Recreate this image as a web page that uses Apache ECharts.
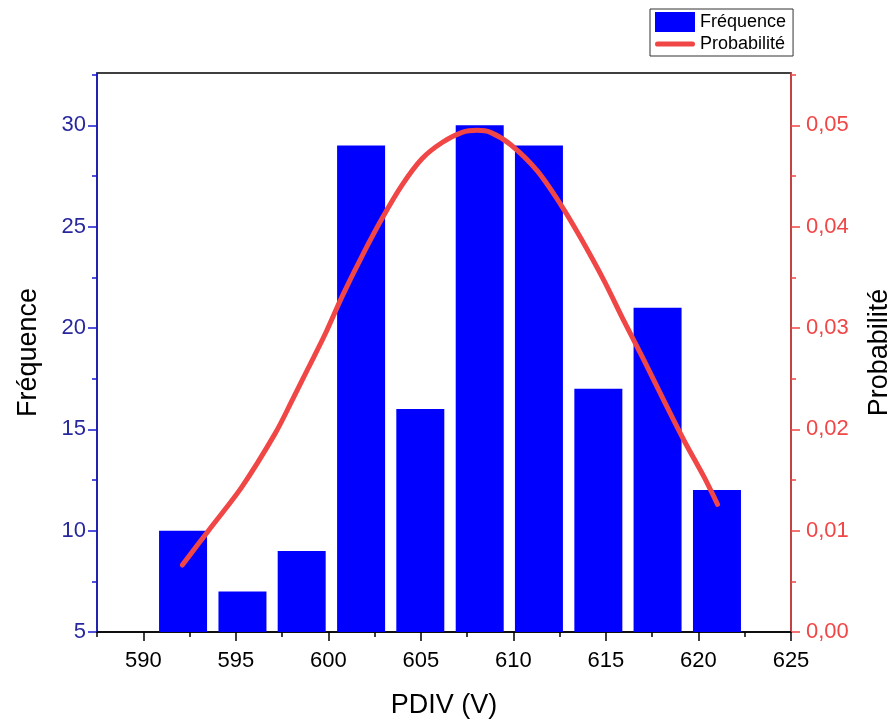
<!DOCTYPE html>
<html>
<head>
<meta charset="utf-8">
<script src="https://cdn.jsdelivr.net/npm/echarts@6/dist/echarts.min.js"></script>
<style>
html,body{margin:0;padding:0;background:#fff;}
#chart{width:889px;height:722px;}
</style>
</head>
<body>
<div id="chart"></div>
<script>
// ---- data ----
const binCenters = [592.15, 595.36, 598.56, 601.77, 604.97, 608.18, 611.38, 614.59, 617.79, 621.0];
const frequencies = [10, 7, 9, 29, 16, 30, 29, 17, 21, 12];
const curveX = [592.11, 593.52, 595.32, 597.13, 598.03, 598.93, 599.83, 600.74, 601.82, 602.90, 603.98, 605.06, 606.15, 607.23, 608.04, 608.76, 609.84, 611.29, 612.55, 613.63, 614.89, 615.97, 617.06, 618.14, 619.22, 620.30, 621.03];
const curveP = [0.0066, 0.0100, 0.0143, 0.0196, 0.0228, 0.0261, 0.0294, 0.0331, 0.0371, 0.0408, 0.0441, 0.0467, 0.0483, 0.0493, 0.0495, 0.0493, 0.0481, 0.0455, 0.0422, 0.0389, 0.0347, 0.0307, 0.0268, 0.0228, 0.0189, 0.0153, 0.0126];
const xTicks = [590, 595, 600, 605, 610, 615, 620, 625];
const xMinorTicks = [587.5, 592.5, 597.5, 602.5, 607.5, 612.5, 617.5, 622.5];
const leftTicks = [5, 10, 15, 20, 25, 30];
const leftMinorTicks = [7.5, 12.5, 17.5, 22.5, 27.5, 32.5];
const rightTicks = [0, 0.01, 0.02, 0.03, 0.04, 0.05];
const rightMinorTicks = [0.005, 0.015, 0.025, 0.035, 0.045, 0.055];

const X_MIN = 587.5, X_MAX = 625;
const L_MIN = 5, L_MAX = 32.58;
const R_MIN = 0, R_MAX = 0.05516;

const FONT = 'Liberation Sans, Arial, sans-serif';
const BLUE_LINE = '#1a1ad0';
const BLUE_TEXT = '#28289e';
const RED = '#f04646';

const chart = echarts.init(document.getElementById('chart'));

const barData = binCenters.map((x, i) => [x, frequencies[i]]);
const lineData = curveX.map((x, i) => [x, curveP[i]]);

chart.setOption({
  animation: false,
  backgroundColor: '#fff',
  grid: {
    left: 97, right: 98, top: 73, bottom: 90,
    outerBoundsMode: 'none',
    containLabel: false,
    show: true, borderColor: '#000', borderWidth: 1.5, backgroundColor: 'transparent'
  },
  legend: {
    orient: 'vertical',
    left: 650, top: 9,
    padding: [3, 7, 3, 5],
    itemGap: 3,
    itemWidth: 40, itemHeight: 20,
    borderColor: '#333', borderWidth: 1,
    textStyle: { fontFamily: FONT, fontSize: 18, color: '#000' },
    data: [
      { name: 'Fréquence', icon: 'rect' },
      { name: 'Probabilité', icon: 'path://M3,0 L43,0 A3,3 0 0 1 43,6 L3,6 A3,3 0 0 1 3,0 Z' }
    ]
  },
  xAxis: [
    {
      type: 'value', min: X_MIN, max: X_MAX, position: 'bottom',
      name: 'PDIV (V)', nameLocation: 'middle', nameGap: 60,
      nameTextStyle: { fontFamily: FONT, fontSize: 27, color: '#000' },
      axisLine: { show: true, lineStyle: { color: '#000', width: 1.5 } },
      axisTick: { show: true, inside: false, length: 9, lineStyle: { color: '#000', width: 1.5 }, customValues: xTicks },
      axisLabel: { show: true, margin: 18, fontFamily: FONT, fontSize: 22, color: '#000', customValues: xTicks },
      splitLine: { show: false }
    },
    {
      type: 'value', min: X_MIN, max: X_MAX, position: 'bottom',
      axisLine: { show: false },
      axisTick: { show: true, inside: false, length: 5, lineStyle: { color: '#000', width: 1.5 }, customValues: xMinorTicks },
      axisLabel: { show: false },
      splitLine: { show: false }
    }
  ],
  yAxis: [
    {
      type: 'value', min: L_MIN, max: L_MAX, position: 'left',
      name: 'Fréquence', nameLocation: 'middle', nameGap: 55, nameRotate: 90,
      nameTextStyle: { fontFamily: FONT, fontSize: 27, color: '#000' },
      axisLine: { show: true, lineStyle: { color: BLUE_LINE, width: 1.5 } },
      axisTick: { show: true, inside: false, length: 9, lineStyle: { color: BLUE_LINE, width: 1.5 }, customValues: leftTicks },
      axisLabel: { show: true, margin: 11, fontFamily: FONT, fontSize: 22, color: BLUE_TEXT, customValues: leftTicks },
      splitLine: { show: false }
    },
    {
      type: 'value', min: R_MIN, max: R_MAX, position: 'right',
      name: 'Probabilité', nameLocation: 'middle', nameGap: 75, nameRotate: 90,
      nameTextStyle: { fontFamily: FONT, fontSize: 27, color: '#000' },
      axisLine: { show: true, lineStyle: { color: RED, width: 1.5 } },
      axisTick: { show: true, inside: false, length: 9, lineStyle: { color: RED, width: 1.5 }, customValues: rightTicks },
      axisLabel: {
        show: true, margin: 15, fontFamily: FONT, fontSize: 22, color: RED, customValues: rightTicks,
        formatter: v => v.toFixed(2).replace('.', ',')
      },
      splitLine: { show: false }
    },
    {
      type: 'value', min: L_MIN, max: L_MAX, position: 'left',
      axisLine: { show: false },
      axisTick: { show: true, inside: false, length: 5, lineStyle: { color: BLUE_LINE, width: 1.5 }, customValues: leftMinorTicks },
      axisLabel: { show: false },
      splitLine: { show: false }
    },
    {
      type: 'value', min: R_MIN, max: R_MAX, position: 'right',
      axisLine: { show: false },
      axisTick: { show: true, inside: false, length: 5, lineStyle: { color: RED, width: 1.5 }, customValues: rightMinorTicks },
      axisLabel: { show: false },
      splitLine: { show: false }
    }
  ],
  series: [
    {
      name: 'Fréquence',
      type: 'bar',
      xAxisIndex: 0, yAxisIndex: 0,
      barWidth: 48,
      itemStyle: { color: '#0000ff' },
      data: barData,
      z: 2
    },
    {
      name: 'Probabilité',
      type: 'line',
      xAxisIndex: 0, yAxisIndex: 1,
      smooth: 0.3,
      symbol: 'none',
      itemStyle: { color: RED },
      lineStyle: { color: RED, width: 5, cap: 'round', join: 'round' },
      data: lineData,
      z: 3
    }
  ]
});
</script>
</body>
</html>
